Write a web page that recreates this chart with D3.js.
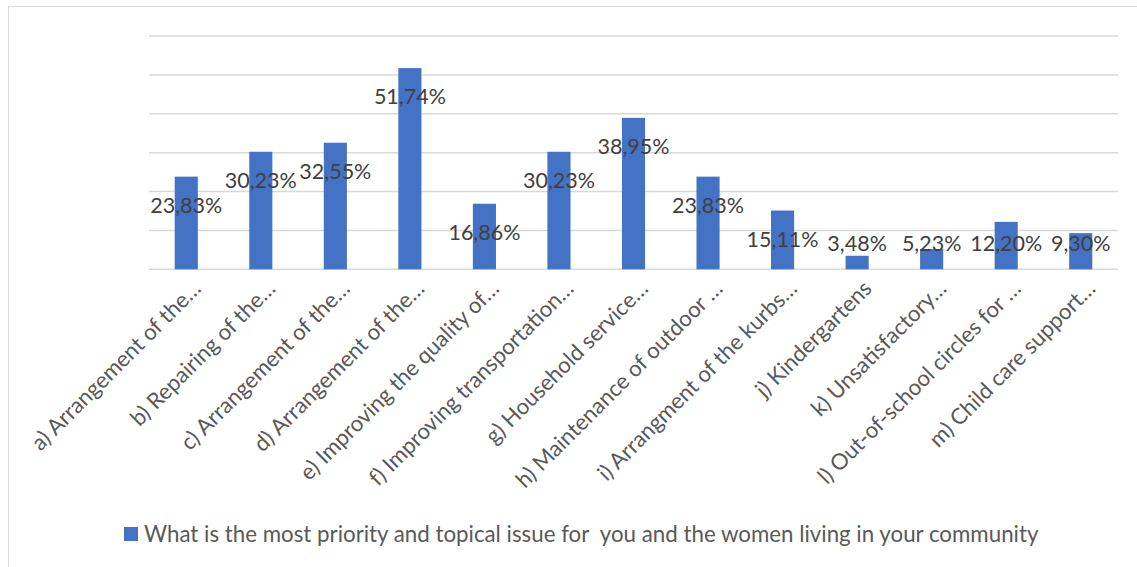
<!DOCTYPE html>
<html>
<head>
<meta charset="utf-8">
<script src="https://cdn.jsdelivr.net/npm/d3@7"></script>
<style>
  html, body { margin: 0; padding: 0; background: #fff; }
  svg { display: block; font-family: Lato, "Open Sans", sans-serif; }
</style>
</head>
<body>
<svg id="chart" width="1137" height="567"></svg>
<script>
// Survey answers: share of respondents naming each issue
const categories = [
  "a) Arrangement of the…",
  "b) Repairing of the…",
  "c) Arrangement of the…",
  "d) Arrangement of the…",
  "e) Improving the quality of…",
  "f) Improving transportation…",
  "g) Household service…",
  "h) Maintenance of outdoor …",
  "i) Arrangment of the kurbs…",
  "j) Kindergartens",
  "k) Unsatisfactory…",
  "l) Out-of-school circles for …",
  "m) Child care support…"
];
const values = [23.83, 30.23, 32.55, 51.74, 16.86, 30.23, 38.95, 23.83, 15.11, 3.48, 5.23, 12.20, 9.30];
const valueLabels = ["23,83%", "30,23%", "32,55%", "51,74%", "16,86%", "30,23%", "38,95%", "23,83%", "15,11%", "3,48%", "5,23%", "12,20%", "9,30%"];
const gridTicks = [0, 10, 20, 30, 40, 50, 60];
const seriesName = "What is the most priority and topical issue for  you and the women living in your community";

const svg = d3.select("#chart");
const barColor = "#4472C4";

// outer chart frame
svg.append("rect")
  .attr("x", 8.5).attr("y", 6.5)
  .attr("width", 1200).attr("height", 700)
  .attr("fill", "none").attr("stroke", "#d9d9d9").attr("stroke-width", 1);

const plot = { left: 149, right: 1118, top: 36, bottom: 269.3 };

const x = d3.scaleBand()
  .domain(categories)
  .range([plot.left, plot.right])
  .paddingInner(0.69)
  .paddingOuter(0.345);

const y = d3.scaleLinear()
  .domain([0, 60])
  .range([plot.bottom, plot.top]);

// horizontal gridlines
svg.append("g")
  .selectAll("line")
  .data(gridTicks)
  .join("line")
  .attr("x1", plot.left).attr("x2", plot.right)
  .attr("y1", d => y(d)).attr("y2", d => y(d))
  .attr("stroke", "#d9d9d9").attr("stroke-width", 1.5);

// bars
svg.append("g")
  .selectAll("rect")
  .data(values)
  .join("rect")
  .attr("x", (d, i) => x(categories[i]))
  .attr("width", x.bandwidth())
  .attr("y", d => y(d))
  .attr("height", d => y(0) - y(d))
  .attr("fill", barColor);

// value labels
svg.append("g")
  .selectAll("text")
  .data(values)
  .join("text")
  .attr("x", (d, i) => x(categories[i]) + x.bandwidth() / 2)
  .attr("y", d => Math.min(y(d) + 36, y(0) - 18))
  .attr("text-anchor", "middle")
  .attr("font-size", 21.5)
  .attr("fill", "#404040")
  .text((d, i) => valueLabels[i]);

// category axis labels, rotated
svg.append("g")
  .selectAll("text")
  .data(categories)
  .join("text")
  .attr("transform", d => `translate(${x(d) + x.bandwidth() / 2 + 16},290) rotate(-45)`)
  .attr("text-anchor", "end")
  .attr("font-size", 22.2)
  .attr("fill", "#595959")
  .text(d => d);

// legend
const legend = svg.append("g");
legend.append("rect")
  .attr("x", 124).attr("y", 527)
  .attr("width", 14).attr("height", 14)
  .attr("fill", barColor);
legend.append("text")
  .attr("x", 144).attr("y", 541.5)
  .attr("font-size", 22.3)
  .attr("fill", "#595959")
  .style("white-space", "pre")
  .text(seriesName);
</script>
</body>
</html>
